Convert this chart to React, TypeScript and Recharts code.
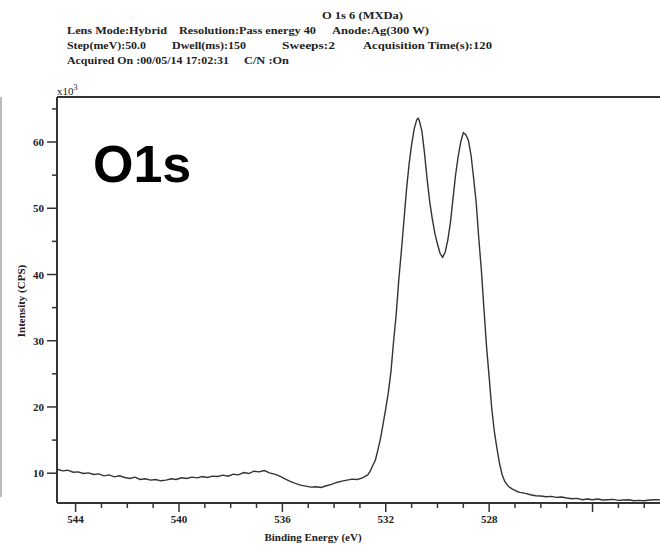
import React from 'react';
import { LineChart, Line, XAxis, YAxis, ReferenceLine } from 'recharts';

const ENERGY = [
  544.7, 544.5, 544.3, 544.1, 543.9, 543.7, 543.5, 543.3, 543.1, 542.9,
  542.7, 542.5, 542.3, 542.1, 541.9, 541.7, 541.5, 541.3, 541.1, 540.9,
  540.7, 540.5, 540.3, 540.1, 539.9, 539.7, 539.5, 539.3, 539.1, 538.9,
  538.7, 538.5, 538.3, 538.1, 537.9, 537.7, 537.5, 537.3, 537.1, 536.9,
  536.7, 536.5, 536.3, 536.1, 535.9, 535.7, 535.5, 535.3, 535.1, 534.9,
  534.7, 534.5, 534.3, 534.1, 533.9, 533.7, 533.5, 533.3, 533.1, 532.9,
  532.7, 532.6, 532.5, 532.4, 532.3, 532.2, 532.1, 532.0, 531.9, 531.8,
  531.7, 531.6, 531.5, 531.4, 531.3, 531.2, 531.1, 531.0, 530.9, 530.8,
  530.75, 530.7, 530.6, 530.5, 530.4, 530.3, 530.2, 530.1, 530.0, 529.9,
  529.8, 529.7, 529.6, 529.5, 529.4, 529.3, 529.2, 529.1, 529.0, 528.9,
  528.8, 528.7, 528.6, 528.5, 528.4, 528.3, 528.2, 528.1, 528.0, 527.9,
  527.8, 527.7, 527.6, 527.5, 527.4, 527.3, 527.2, 527.1, 527.0, 526.9,
  526.8, 526.6, 526.4, 526.2, 526.0, 525.8, 525.6, 525.4, 525.2, 525.0,
  524.8, 524.6, 524.4, 524.2, 524.0, 523.8, 523.6, 523.4, 523.2, 523.0,
  522.8, 522.6, 522.4, 522.2, 522.0, 521.8, 521.6, 521.4,
];

// Intensity in units of 10^3 CPS
const INTENSITY = [
  10.6, 10.35, 10.45, 10.15, 10.2, 9.95, 10.05, 9.8, 9.9, 9.6,
  9.75, 9.45, 9.6, 9.35, 9.2, 9.4, 9.05, 9.15, 8.95, 9.05,
  8.85, 8.95, 9.15, 9.05, 9.3, 9.2, 9.4, 9.3, 9.5, 9.35,
  9.55, 9.5, 9.7, 9.55, 9.85, 9.75, 10.1, 9.95, 10.3, 10.2,
  10.4, 10.05, 9.85, 9.55, 9.15, 8.75, 8.45, 8.2, 8.05, 7.9,
  7.95, 7.85, 8.1, 8.3, 8.6, 8.8, 8.95, 9.1, 9.05, 9.3,
  9.75, 10.3, 11.2, 12.0, 13.6, 15.3, 17.5, 19.8, 22.2, 25.3,
  29.8, 33.8, 39.0, 43.4, 48.0, 52.7, 56.6, 59.6, 62.0, 63.4,
  63.6, 63.2, 61.6, 58.3, 54.4, 51.0, 48.4, 46.2, 44.6, 43.2,
  42.6, 43.4, 45.2, 47.8, 51.4, 55.0, 57.8, 60.0, 61.4, 61.1,
  60.2, 58.0, 54.5, 50.8, 45.4, 40.6, 34.7, 29.1, 24.5, 19.8,
  16.3, 13.8, 11.5, 9.8, 8.8, 8.2, 7.85, 7.6, 7.4, 7.2,
  7.1, 6.95, 6.75, 6.6, 6.55, 6.45, 6.5, 6.35, 6.4, 6.25,
  6.15, 6.2, 6.0, 6.1, 6.0, 6.1, 5.95, 6.0, 6.05, 5.9,
  5.95, 6.0, 5.85, 5.9, 5.85, 5.95, 6.0, 6.0,
];

const X_TICKS = [544, 543, 542, 541, 540, 539, 538, 537, 536, 535, 534, 533, 532, 531, 530, 529, 528, 527, 526, 525, 524, 523, 522];
const X_LABELS = [544, 540, 536, 532, 528];
const Y_TICKS = [10, 15, 20, 25, 30, 35, 40, 45, 50, 55, 60, 65];
const Y_LABELS = [10, 20, 30, 40, 50, 60];

const X_DOMAIN = [521.39, 544.72];
const Y_DOMAIN = [5.5, 66.8];

const data = ENERGY.map((e, i) => ({ ev: e, cps: INTENSITY[i] }));

const AXIS = '#333';
const TXT = '#222';
const SERIF = '"Liberation Serif", "DejaVu Serif", serif';

const PLOT_LEFT = 57;
const PLOT_BOTTOM = 503;

const YTick = (p: any) => {
  const v = p.payload.value;
  const major = Y_LABELS.includes(v);
  const y = p.y;
  return (
    <g>
      <line x1={PLOT_LEFT - (major ? 10 : 5)} x2={PLOT_LEFT} y1={y} y2={y} stroke={AXIS} strokeWidth={1.5} />
      {major && (
        <text x={44} y={y + 4} textAnchor="end" fontFamily={SERIF} fontWeight="bold" fontSize={11} fill={TXT}>
          {v}
        </text>
      )}
    </g>
  );
};

const XTick = (p: any) => {
  const v = p.payload.value;
  const major = (544 - v) % 4 === 0;
  const x = p.x;
  return (
    <g>
      <line x1={x} x2={x} y1={PLOT_BOTTOM} y2={PLOT_BOTTOM + (major ? 9 : 5)} stroke={AXIS} strokeWidth={1.5} />
      {X_LABELS.includes(v) && (
        <text x={x} y={523} textAnchor="middle" fontFamily={SERIF} fontWeight="bold" fontSize={11} fill={TXT}>
          {v}
        </text>
      )}
    </g>
  );
};

const hdr = { fontFamily: SERIF, fontWeight: 'bold' as const, fontSize: 11, fill: TXT };

export default function App() {
  return (
    <div style={{ position: 'absolute', left: 0, top: 0, width: 660, height: 545, background: '#fff', overflow: 'hidden' }}>
      <LineChart width={660} height={545} data={data} margin={{ top: 97, right: 0, bottom: 0, left: 0 }}>
        <XAxis
          type="number"
          dataKey="ev"
          domain={X_DOMAIN}
          reversed
          allowDataOverflow
          ticks={X_TICKS}
          interval={0}
          height={42}
          axisLine={{ stroke: AXIS, strokeWidth: 2 }}
          tickLine={false}
          tick={XTick}
        />
        <YAxis
          type="number"
          domain={Y_DOMAIN}
          allowDataOverflow
          ticks={Y_TICKS}
          interval={0}
          width={57}
          axisLine={{ stroke: AXIS, strokeWidth: 2 }}
          tickLine={false}
          tick={YTick}
        />
        <ReferenceLine y={Y_DOMAIN[1]} stroke={AXIS} strokeWidth={2} />
        <Line type="linear" dataKey="cps" stroke="#333" strokeWidth={1.4} dot={false} isAnimationActive={false} />
      </LineChart>
      <svg width={660} height={545} style={{ position: 'absolute', left: 0, top: 0, pointerEvents: 'none' }}>
        <line x1={1} x2={1} y1={97} y2={497} stroke="#bbb" strokeWidth={2} />
        <text x={322} y={19} {...hdr} textLength={81} lengthAdjust="spacingAndGlyphs">O 1s 6 (MXDa)</text>
        <text x={67} y={34} {...hdr} textLength={100} lengthAdjust="spacingAndGlyphs">Lens Mode:Hybrid</text>
        <text x={179} y={34} {...hdr} textLength={137} lengthAdjust="spacingAndGlyphs">Resolution:Pass energy 40</text>
        <text x={332} y={34} {...hdr} textLength={97} lengthAdjust="spacingAndGlyphs">Anode:Ag(300 W)</text>
        <text x={67} y={49} {...hdr} textLength={79} lengthAdjust="spacingAndGlyphs">Step(meV):50.0</text>
        <text x={172} y={49} {...hdr} textLength={74} lengthAdjust="spacingAndGlyphs">Dwell(ms):150</text>
        <text x={282} y={49} {...hdr} textLength={53} lengthAdjust="spacingAndGlyphs">Sweeps:2</text>
        <text x={363} y={49} {...hdr} textLength={129} lengthAdjust="spacingAndGlyphs">Acquisition Time(s):120</text>
        <text x={67} y={64} {...hdr} textLength={162} lengthAdjust="spacingAndGlyphs">Acquired On :00/05/14 17:02:31</text>
        <text x={244} y={64} {...hdr} textLength={45} lengthAdjust="spacingAndGlyphs">C/N :On</text>
        <text x={57} y={95} fontFamily={SERIF} fontSize={11} fill={TXT}>
          x10<tspan dy={-5} fontSize={8}>3</tspan>
        </text>
        <text x={313} y={541} textAnchor="middle" {...hdr}>Binding Energy (eV)</text>
        <text x={0} y={0} transform="translate(25,301) rotate(-90)" textAnchor="middle" {...hdr}>Intensity (CPS)</text>
        <text x={93} y={182} fontFamily='"Liberation Sans", Arial, sans-serif' fontWeight="bold" fontSize={52} fill="#000">O1s</text>
      </svg>
    </div>
  );
}
